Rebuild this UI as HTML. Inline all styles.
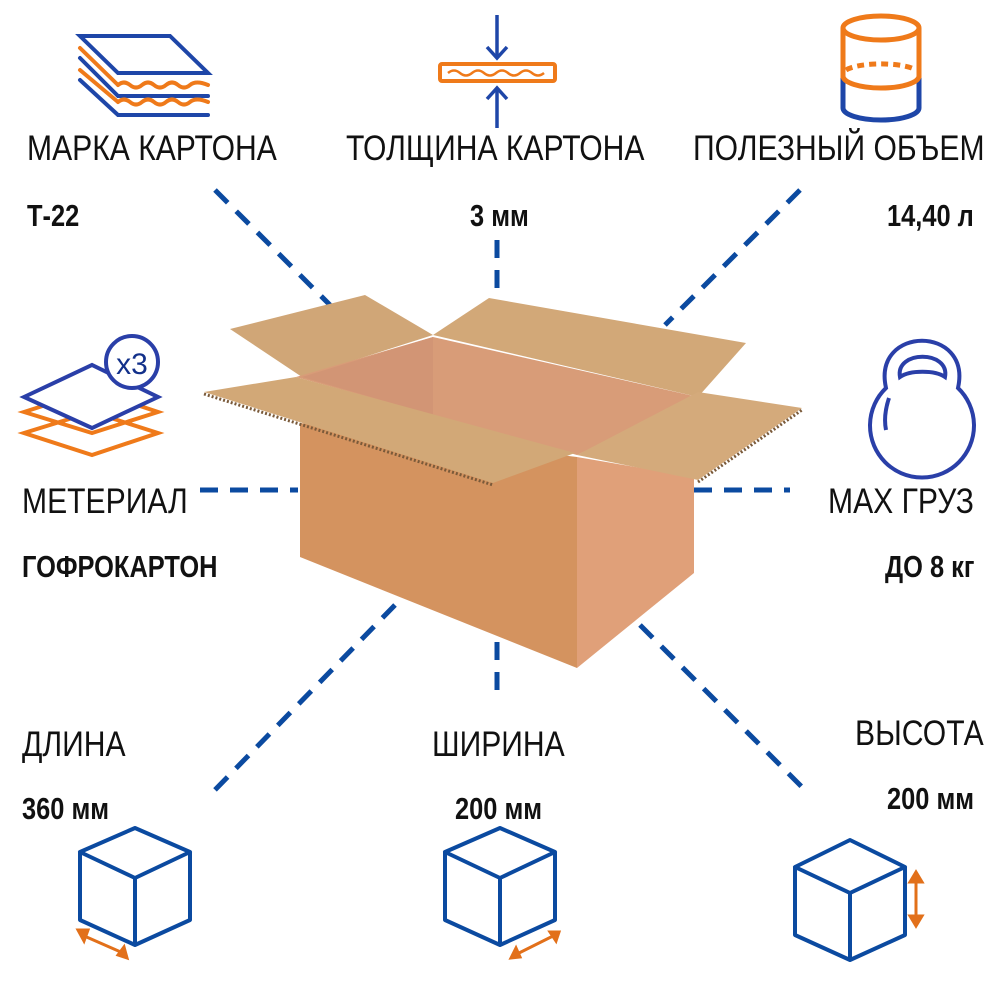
<!DOCTYPE html>
<html><head><meta charset="utf-8"><style>
body{margin:0;background:#fff}
.t{position:absolute;font-family:"Liberation Sans","DejaVu Sans",sans-serif;color:#111;white-space:nowrap;transform-origin:0 0}
.h{font-size:35px;transform:scaleX(0.86)}
.v{font-size:31px;font-weight:bold;transform:scaleX(0.82)}
</style></head><body>
<div style="position:relative;width:1000px;height:1000px;overflow:hidden">
<svg width="1000" height="1000" style="position:absolute;left:0;top:0">
<g stroke="#0b4aa0" stroke-width="5" stroke-dasharray="18 12" fill="none">
<line x1="215" y1="190" x2="330" y2="305"/>
<line x1="497" y1="240" x2="497" y2="295"/>
<line x1="800" y1="190" x2="665" y2="325"/>
<line x1="200" y1="490" x2="298" y2="490"/>
<line x1="694" y1="490" x2="790" y2="490"/>
<line x1="395" y1="605" x2="210" y2="795"/>
<line x1="497" y1="642" x2="497" y2="702"/>
<line x1="640" y1="625" x2="805" y2="790"/>
</g>
<!-- box -->
<polygon points="230,329 365,295 433,335 302,377" fill="#d0a677"/>
<polygon points="433,335 489,298 746,343 698,397" fill="#d2a878"/>
<polygon points="296,377 433,337 698,397 577,455" fill="#d89c78"/>
<polygon points="302,377 433,337 433,415" fill="#d29575"/>
<polygon points="300,423 577,457 577,668 300,557" fill="#d4935f"/>
<polygon points="577,457 694,477 694,573 577,668" fill="#e0a079"/>
<polygon points="204,392 296,377 575,453 493,483" fill="#d2a877"/>
<polygon points="577,455 698,392 802,408 698,480" fill="#d4aa7b"/>
<line x1="204" y1="394" x2="493" y2="485" stroke="#7a5a3a" stroke-width="3" stroke-dasharray="2 2"/>
<line x1="698" y1="482" x2="802" y2="410" stroke="#7a5a3a" stroke-width="3" stroke-dasharray="2 2"/>
<!-- top left icon -->
<g fill="none" stroke-linecap="round" stroke-width="4">
<polygon points="80,36 170,36 208,73 118,73" stroke="#1e46a8"/>
<path d="M80,48 L118,85" stroke="#ef7a1a"/>
<path d="M118,85 q6,-5 12,0 t12,0 t12,0 t12,0 t12,0 t12,0 t18,0" stroke="#ef7a1a"/>
<path d="M80,58 L118,96 L208,96" stroke="#1e46a8"/>
<path d="M80,70 L118,102" stroke="#ef7a1a"/>
<path d="M118,102 q6,-5 12,0 t12,0 t12,0 t12,0 t12,0 t12,0 t18,0" stroke="#ef7a1a"/>
<path d="M80,80 L118,115 L208,115" stroke="#1e46a8"/>
</g>
<!-- thickness icon -->
<rect x="440" y="64" width="115" height="17" rx="2" fill="none" stroke="#ef7a1a" stroke-width="4"/>
<path d="M448,73 q6,-5 12,0 t12,0 t12,0 t12,0 t12,0 t12,0 t12,0 t12,0" fill="none" stroke="#ef7a1a" stroke-width="2.5"/>
<g stroke="#1e46a8" stroke-width="3.5" fill="none">
<line x1="497" y1="15" x2="497" y2="58"/><path d="M487,47 L497,58 L507,47"/>
<line x1="497" y1="88" x2="497" y2="128"/><path d="M487,99 L497,88 L507,99"/>
</g>
<!-- cylinder -->
<g fill="none" stroke-width="5">
<path d="M843,28 L843,78 M919,28 L919,78" stroke="#ef7a1a"/>
<ellipse cx="881" cy="28" rx="38" ry="12" stroke="#ef7a1a"/>
<path d="M843,78 L843,108 A38,12 0 0 0 919,108 L919,78" stroke="#1e46a8"/>
<path d="M846,70 A38,10 0 0 1 916,70" stroke="#ef7a1a" stroke-dasharray="7 5"/>
<path d="M843,76 A38,12 0 0 0 919,76" stroke="#ef7a1a"/>
</g>
<!-- weight -->
<g fill="none" stroke="#2a3fa8" stroke-width="4">
<path d="M886,388 C872,325 972,325 958,388 A52,52 0 1 1 886,388 Z"/>
<path d="M900,377 C895,350 950,350 945,377 C935,370 910,370 900,377Z"/>
<path d="M889,398 C885,410 884,420 886,430"/>
</g>
<!-- material icon -->
<g fill="none" stroke-width="4">
<polygon points="24,433 92,412 158,433 92,455" stroke="#ef7a1a"/>
<polygon points="24,412 92,390 158,412 92,433" stroke="#ef7a1a"/>
<polygon points="24,397 92,365 158,397 92,428" stroke="#2a3fa8" fill="#fff"/>
<circle cx="132" cy="362" r="26" stroke="#2a3fa8" fill="#fff"/>
</g>
<text x="132" y="374" font-family="Liberation Sans,sans-serif" font-size="30" fill="#12308a" text-anchor="middle">x3</text>
<!-- cubes -->
<g fill="none" stroke="#0b4aa0" stroke-width="4" stroke-linejoin="round">
<path d="M135,828 L80,852 L135,878 L190,852 Z M80,852 L80,920 L135,945 L190,920 L190,852 M135,878 L135,945"/>
<path d="M500,828 L445,852 L500,878 L555,852 Z M445,852 L445,920 L500,945 L555,920 L555,852 M500,878 L500,945"/>
<path d="M850,840 L795,867 L850,893 L905,867 Z M795,867 L795,935 L850,960 L905,935 L905,867 M850,893 L850,960"/>
</g>
<g stroke="#e2701a" stroke-width="3" fill="#e2701a">
<line x1="82" y1="935" x2="123" y2="953"/><polygon points="78,930 88,930 84,941"/><polygon points="127,958 118,955 124,947"/>
<line x1="515" y1="955" x2="555" y2="935"/><polygon points="511,958 516,948 520,957"/><polygon points="559,932 550,932 556,941"/>
<line x1="916" y1="878" x2="916" y2="920"/><polygon points="910,882 916,872 922,882"/><polygon points="910,916 916,926 922,916"/>
</g>
</svg>
<div class="t h" style="left:27px;top:129px">МАРКА КАРТОНА</div>
<div class="t h" style="left:346px;top:129px">ТОЛЩИНА КАРТОНА</div>
<div class="t h" style="left:693px;top:129px">ПОЛЕЗНЫЙ ОБЪЕМ</div>
<div class="t v" style="left:27px;top:198px">Т-22</div>
<div class="t v" style="left:470px;top:198px">3 мм</div>
<div class="t v" style="left:887px;top:198px">14,40 л</div>
<div class="t h" style="left:22px;top:482px">МЕТЕРИАЛ</div>
<div class="t v" style="left:22px;top:549px">ГОФРОКАРТОН</div>
<div class="t h" style="left:828px;top:482px">MAX ГРУЗ</div>
<div class="t v" style="left:885px;top:549px">ДО 8 кг</div>
<div class="t h" style="left:22px;top:725px">ДЛИНА</div>
<div class="t h" style="left:432px;top:725px">ШИРИНА</div>
<div class="t h" style="left:855px;top:714px">ВЫСОТА</div>
<div class="t v" style="left:22px;top:791px">360 мм</div>
<div class="t v" style="left:455px;top:791px">200 мм</div>
<div class="t v" style="left:887px;top:781px">200 мм</div>
</div>
</body></html>
